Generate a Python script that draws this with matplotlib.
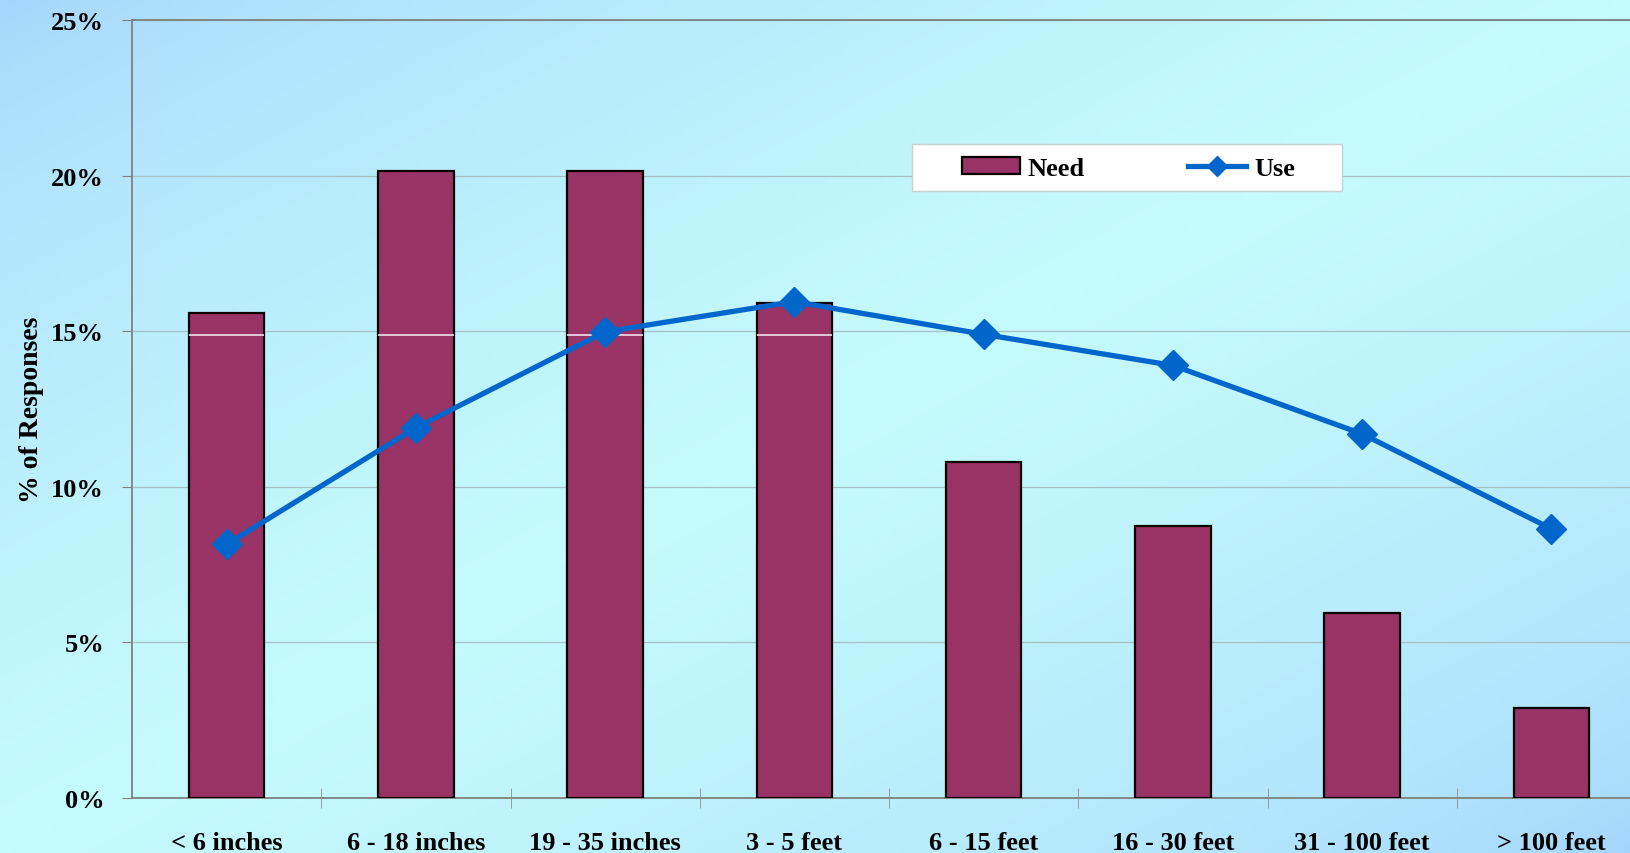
import numpy as np
import matplotlib
matplotlib.use('Agg')
import matplotlib.pyplot as plt
from matplotlib.colors import LinearSegmentedColormap
from matplotlib.ticker import FuncFormatter, FixedLocator
from matplotlib.lines import Line2D
from matplotlib.patches import Patch, Rectangle

# data (percent of responses)
categories = ['< 6 inches', '6 - 18 inches', '19 - 35 inches', '3 - 5 feet',
              '6 - 15 feet', '16 - 30 feet', '31 - 100 feet', '> 100 feet']
need = [15.6, 20.15, 20.15, 15.9, 10.8, 8.75, 5.95, 2.9]
use = [8.15, 11.9, 14.98, 15.95, 14.9, 13.9, 11.7, 8.65]

plt.rcParams['font.family'] = ['Liberation Serif', 'DejaVu Serif']
plt.rcParams['font.weight'] = 'bold'

W, H = 1631, 854
fig = plt.figure(figsize=(W / 100, H / 100), dpi=100)

# diagonal blue-cyan-blue background
bg = fig.add_axes([0, 0, 1, 1], zorder=-10)
xx, yy = np.meshgrid(np.linspace(0, 1, 400), np.linspace(0, 1, 200))
t = (xx + yy) / 2
v = np.clip(1 - np.abs(t - 0.5) / 0.5, 0, 1) ** 0.6
cmap = LinearSegmentedColormap.from_list('bgc', ['#a4d4fc', '#c6fbfd'])
bg.imshow(v, cmap=cmap, aspect='auto', extent=[0, 1, 0, 1], origin='upper')
bg.axis('off')

# plot area runs slightly past the right edge of the figure
ax = fig.add_axes([132 / W, 1 - 799 / H, (1646 - 132) / W, (799 - 21) / H])
ax.set_facecolor('none')

x = np.arange(len(categories))
bars = ax.bar(x, need, width=0.4, color='#993366', edgecolor='black',
              linewidth=1.6, zorder=3)
# thin light seam across the tall bars
for b in bars:
    if b.get_height() > 14.9:
        ax.hlines(14.88, b.get_x(), b.get_x() + b.get_width(),
                  color='#f0e0f0', lw=1.2, zorder=4)

ax.plot(x, use, color='#0066cc', lw=3.8, marker='D', ms=15, zorder=5)

ax.set_xlim(-0.5, len(categories) - 0.5)
ax.set_ylim(0, 25)
ax.set_yticks(np.arange(0, 26, 5))
ax.yaxis.set_major_formatter(FuncFormatter(lambda v, p: '%d%%' % v))
ax.grid(axis='y', color='#a4c2c6', lw=0.9, zorder=0)
ax.set_axisbelow(True)

ax.set_xticks(x)
ax.set_xticklabels(categories, fontsize=19, fontweight='bold')
ax.xaxis.set_minor_locator(FixedLocator(x[:-1] + 0.5))
ax.tick_params(axis='x', which='major', length=0, pad=24)
ax.tick_params(axis='x', which='minor', length=14, direction='inout',
               color='#909090')
ax.tick_params(axis='y', labelsize=19, length=7, color='#808080', pad=13)
for lab in ax.get_yticklabels():
    lab.set_fontweight('bold')

for s in ['left', 'top', 'bottom']:
    ax.spines[s].set_color('#808080')
    ax.spines[s].set_linewidth(1.3)
ax.spines['right'].set_visible(False)

ax.set_ylabel('% of Responses', fontsize=20, fontweight='bold', labelpad=5)

# legend: white box with the entries inside
fig.patches.append(Rectangle((912 / W, 1 - 192 / H), (1342 - 912) / W, 47 / H,
                             transform=fig.transFigure, facecolor='white',
                             edgecolor='#c8d0d0', lw=1, zorder=6))
handles = [Patch(facecolor='#993366', edgecolor='black', lw=1.6),
           Line2D([], [], color='#0066cc', lw=3.8, marker='D', ms=10)]
leg = fig.legend(handles, ['Need', 'Use'], loc='center left',
                 bbox_to_anchor=(962 / W, 1 - 169 / H),
                 ncol=2, fontsize=19, frameon=False,
                 columnspacing=3.9, handlelength=2.2, handleheight=0.62,
                 handletextpad=0.3, borderpad=0, borderaxespad=0)
leg.set_zorder(7)
for txt in leg.get_texts():
    txt.set_fontweight('bold')

fig.savefig('out.png', dpi=100)
